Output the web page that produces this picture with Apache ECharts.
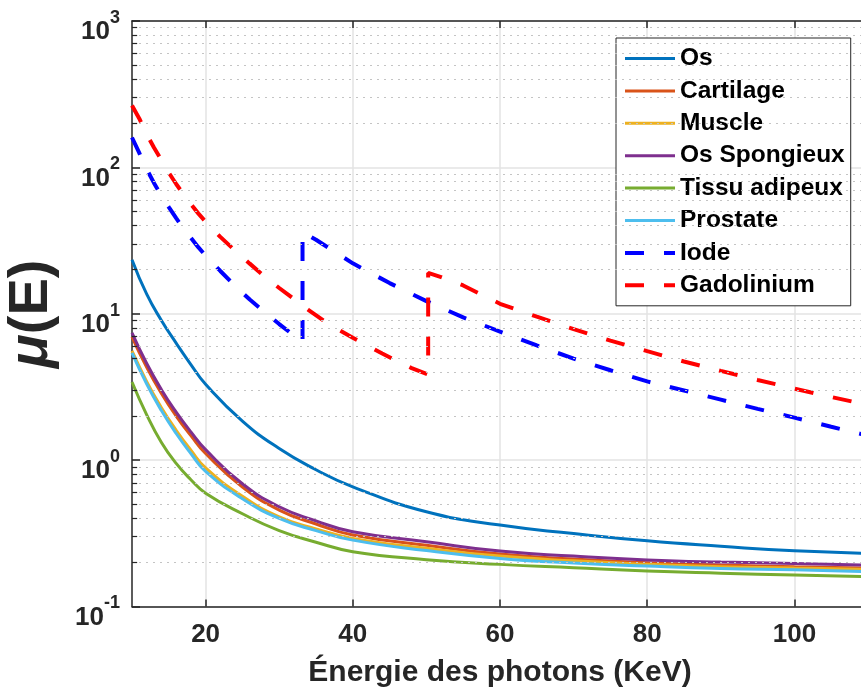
<!DOCTYPE html>
<html>
<head>
<meta charset="utf-8">
<style>
  html, body { margin: 0; padding: 0; background: #fff; }
  #chart { width: 861px; height: 690px; }
</style>
<script src="https://cdn.jsdelivr.net/npm/echarts@6/dist/echarts.min.js"></script>
</head>
<body>
<div id="chart"></div>
<script>
// énergies (keV) des courbes pleines
const energies = [10, 12, 14, 16, 18, 20, 25, 30, 35, 40, 50, 60, 70, 80, 90, 100, 110];

const muOs        = [23.4, 13.6, 9.0, 6.3, 4.5, 3.3, 1.85, 1.2, 0.86, 0.657, 0.444, 0.36, 0.315, 0.281, 0.258, 0.240, 0.231];
const muCartilage = [6.95, 4.3, 2.85, 2.0, 1.47, 1.11, 0.655, 0.456, 0.366, 0.308, 0.262, 0.228, 0.211, 0.199, 0.192, 0.187, 0.183];
const muMuscle    = [5.57, 3.44, 2.28, 1.60, 1.17, 0.886, 0.567, 0.41, 0.339, 0.292, 0.25, 0.221, 0.205, 0.194, 0.187, 0.183, 0.179];
const muSpongieux = [7.4, 4.57, 3.03, 2.13, 1.56, 1.18, 0.69, 0.48, 0.385, 0.324, 0.277, 0.239, 0.221, 0.208, 0.201, 0.197, 0.192];
const muAdipeux   = [3.42, 2.04, 1.32, 0.95, 0.735, 0.595, 0.43, 0.33, 0.275, 0.237, 0.209, 0.194, 0.184, 0.175, 0.169, 0.164, 0.160];
const muProstate  = [5.4, 3.31, 2.18, 1.52, 1.11, 0.837, 0.545, 0.40, 0.33, 0.284, 0.241, 0.213, 0.198, 0.189, 0.182, 0.178, 0.173];

// agents de contraste (avec seuil K)
const iodeE  = [10, 11, 12, 13, 14, 15, 16, 17, 18, 19, 20, 22, 24, 26, 28, 30, 32, 33.17, 33.17, 34, 35, 40, 45, 50, 55, 60, 65, 70, 75, 80, 85, 90, 95, 100, 105, 110];
const iodeMu = [160, 125, 97, 78, 64, 53.5, 45, 38, 33, 28.5, 25, 19.6, 15.5, 12.5, 10.3, 8.5, 7.1, 6.4, 36, 34.2, 32, 22.1, 16.2, 12.2, 9.44, 7.55, 6.07, 4.94, 4.11, 3.45, 2.99, 2.59, 2.24, 1.95, 1.69, 1.47];

const gdE  = [10, 11, 12, 13, 14, 15, 16, 17, 18, 19, 20, 22, 24, 26, 28, 30, 32, 34, 36, 38, 40, 42, 44, 46, 48, 50.24, 50.24, 52, 55, 60, 65, 70, 75, 80, 85, 90, 95, 100, 105, 110];
const gdMu = [265, 215, 168, 136, 112, 92, 77, 65.5, 56, 48.5, 42.5, 33.5, 27, 22, 18, 15, 12.6, 10.6, 9.0, 7.8, 6.85, 6.05, 5.35, 4.75, 4.25, 3.85, 19.0, 17.8, 15.6, 11.7, 9.55, 7.85, 6.55, 5.55, 4.72, 4.07, 3.53, 3.08, 2.70, 2.38];

const xTicks = [20, 40, 60, 80, 100];
const yMinor = [0.2, 0.3, 0.4, 0.5, 0.6, 0.7, 0.8, 0.9,
                2, 3, 4, 5, 6, 7, 8, 9,
                20, 30, 40, 50, 60, 70, 80, 90,
                200, 300, 400, 500, 600, 700, 800, 900];

const FONT = '"Liberation Sans", Arial, Helvetica, sans-serif';
const AXIS = '#262626';

const pairs = (xs, ys) => xs.map((x, i) => [x, ys[i]]);

const solid = (name, color, values) => ({
  name,
  type: 'line',
  data: pairs(energies, values),
  showSymbol: false,
  symbol: 'none',
  smooth: 0.5,
  lineStyle: { color, width: 3 },
  itemStyle: { color },
  z: 3,
});

const dashed = (name, color, xs, ys) => ({
  name,
  type: 'line',
  data: pairs(xs, ys),
  showSymbol: false,
  symbol: 'none',
  lineStyle: { color, width: 4, type: [19, 20], cap: 'butt' },
  itemStyle: { color },
  z: 4,
});

const chart = echarts.init(document.getElementById('chart'));

// grille mineure (pointillés) + petites graduations de l'axe log
const minorLines = yMinor.map((v) => ({ yAxis: v }));
const minorMarks = yMinor.map((v) => [
  { coord: [10, v], lineStyle: { type: 'solid', color: AXIS, width: 1.2 } },
  { coord: [10.7, v] },
]);

const option = {
  animation: false,
  backgroundColor: '#fff',
  grid: { left: 132, right: -7, top: 21, bottom: 83.5, outerBoundsMode: 'none', containLabel: false },
  legend: {
    orient: 'vertical',
    left: 616,
    top: 38,
    padding: [8, 6, 8, 7],
    itemGap: 7.4,
    itemWidth: 50,
    itemHeight: 14,
    backgroundColor: '#fff',
    borderColor: AXIS,
    borderWidth: 1,
    borderRadius: 0,
    itemStyle: { color: 'rgba(0,0,0,0)', borderWidth: 0, opacity: 0 },
    lineStyle: { width: 'inherit' },
    textStyle: { fontFamily: FONT, fontWeight: 'bold', fontSize: 24.5, lineHeight: 24, color: '#000' },
    data: ['Os', 'Cartilage', 'Muscle', 'Os Spongieux', 'Tissu adipeux', 'Prostate', 'Iode', 'Gadolinium'],
  },
  xAxis: [
    {
      type: 'value',
      min: 10,
      max: 110,
      name: 'Énergie des photons (KeV)',
      nameLocation: 'middle',
      nameGap: 51,
      nameTextStyle: { fontFamily: FONT, fontWeight: 'bold', fontSize: 30, color: AXIS },
      axisLine: { onZero: false, lineStyle: { color: AXIS, width: 1.5 } },
      axisTick: { inside: true, length: 7, customValues: xTicks, lineStyle: { color: AXIS, width: 1.5 } },
      axisLabel: { customValues: xTicks, margin: 15, fontFamily: FONT, fontWeight: 'bold', fontSize: 26, color: AXIS },
      splitLine: { show: true, lineStyle: { color: '#e3e3e3', width: 1.5 } },
    },
    {
      type: 'value',
      position: 'top',
      min: 10,
      max: 110,
      axisLine: { onZero: false, lineStyle: { color: AXIS, width: 1.5 } },
      axisTick: { inside: true, length: 7, customValues: xTicks, lineStyle: { color: AXIS, width: 1.5 } },
      axisLabel: { show: false },
      splitLine: { show: false },
    },
  ],
  yAxis: {
    type: 'log',
    logBase: 10,
    min: 0.1,
    max: 1000,
    name: '{m|μ}{e|(E)}',
    nameLocation: 'middle',
    nameRotate: 90,
    nameGap: 72,
    nameTextStyle: {
      rich: {
        m: { fontFamily: FONT, fontWeight: 'bold', fontStyle: 'italic', fontSize: 56, lineHeight: 56, color: AXIS },
        e: { fontFamily: FONT, fontWeight: 'bold', fontSize: 56, lineHeight: 56, color: AXIS },
      },
    },
    axisLine: { onZero: false, lineStyle: { color: AXIS, width: 1.5 } },
    axisTick: { inside: true, length: 8, lineStyle: { color: AXIS, width: 1.5 } },
    axisLabel: {
      margin: 12,
      padding: [12, 0, 0, 0],
      formatter: (v) => '{a|10}{b|' + Math.round(Math.log10(v)) + '}',
      rich: {
        a: { fontFamily: FONT, fontWeight: 'bold', fontSize: 26, lineHeight: 36, color: AXIS, verticalAlign: 'bottom' },
        b: { fontFamily: FONT, fontWeight: 'bold', fontSize: 18, lineHeight: 17, color: AXIS, verticalAlign: 'top' },
      },
    },
    splitLine: { show: true, lineStyle: { color: '#e3e3e3', width: 1.5 } },
  },
  series: [
    {
      name: 'grilleMineure',
      type: 'line',
      data: [],
      z: 1,
      silent: true,
      markLine: {
        silent: true,
        symbol: ['none', 'none'],
        label: { show: false },
        animation: false,
        lineStyle: { type: [2, 5], color: '#c4c4c4', width: 1 },
        data: [...minorLines, ...minorMarks],
      },
    },
    solid('Os', '#0072BD', muOs),
    solid('Cartilage', '#D95319', muCartilage),
    solid('Muscle', '#EDB120', muMuscle),
    solid('Os Spongieux', '#7E2F8E', muSpongieux),
    solid('Tissu adipeux', '#77AC30', muAdipeux),
    solid('Prostate', '#4DBEEE', muProstate),
    dashed('Iode', '#0000FF', iodeE, iodeMu),
    dashed('Gadolinium', '#FF0000', gdE, gdMu),
  ],
};

chart.setOption(option);
</script>
</body>
</html>
